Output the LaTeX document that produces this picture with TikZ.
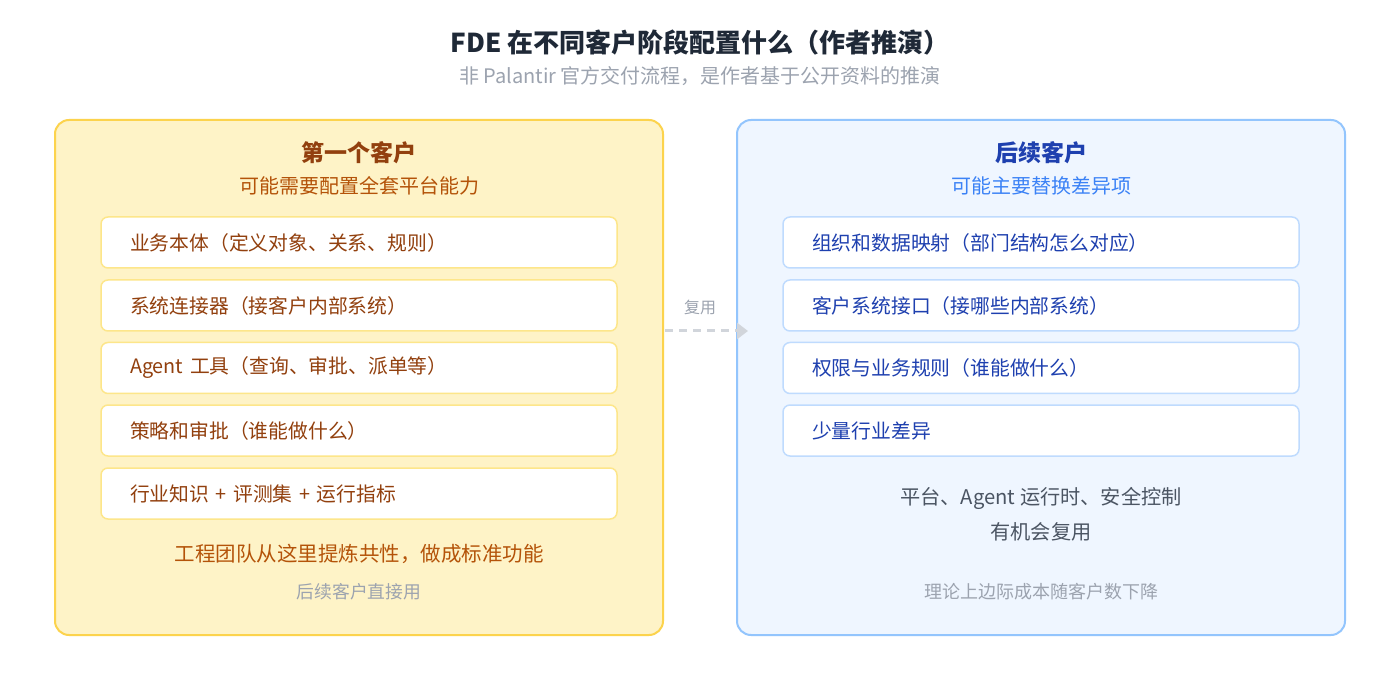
\documentclass[tikz,border=0pt]{standalone}
\usepackage{fontspec}
\setmainfont{Noto Sans CJK SC}
\usetikzlibrary{arrows.meta,positioning}
\definecolor{titlecol}{HTML}{1F2937}
\definecolor{mutedcol}{HTML}{9CA3AF}
\definecolor{amberbg}{HTML}{FEF3C7}
\definecolor{amberline}{HTML}{FCD34D}
\definecolor{amberitem}{HTML}{FDE68A}
\definecolor{amberdark}{HTML}{92400E}
\definecolor{ambermid}{HTML}{B45309}
\definecolor{bluebg}{HTML}{EFF6FF}
\definecolor{blueline}{HTML}{93C5FD}
\definecolor{blueitem}{HTML}{BFDBFE}
\definecolor{bluedark}{HTML}{1E40AF}
\definecolor{bluemid}{HTML}{3B82F6}
\definecolor{graytext}{HTML}{4B5563}
\definecolor{arrowcol}{HTML}{D1D5DB}
\newcommand{\fs}[1]{\fontsize{#1}{#1}\selectfont}
\begin{document}
\begin{tikzpicture}[x=1pt,y=-1pt,
    panel/.style={rounded corners=14pt,line width=2pt,minimum width=608pt,minimum height=515pt},
    itembox/.style={rounded corners=7pt,line width=1.5pt,fill=white,minimum width=516pt,minimum height=51pt,
        text width=458pt,inner xsep=29pt,align=left,font=\fs{19.8}},
    txt/.style={inner sep=0pt,anchor=center}]
    \fill[white](0,0)rectangle(1400,700);
    \useasboundingbox(0,0)rectangle(1400,700);
    % title
    \node[txt,font=\fs{26}\bfseries,text=titlecol](title)at(700,43){FDE 在不同客户阶段配置什么（作者推演）};
    \node[txt,font=\fs{20},text=mutedcol](subtitle)at(700,76){非 Palantir 官方交付流程，是作者基于公开资料的推演};
    % panels
    \node[panel,draw=amberline,fill=amberbg](first)at(359,377.5){};
    \node[panel,draw=blueline,fill=bluebg](later)at(1041,377.5){};
    % first customer
    \node[txt,font=\fs{23}\bfseries,text=amberdark](firsthead)at(359,153){第一个客户};
    \node[txt,font=\fs{20},text=ambermid](firstsub)at(359,186){可能需要配置全套平台能力};
    \node[itembox,draw=amberitem,text=amberdark](f1)at(359,242.5){业务本体（定义对象、关系、规则）};
    \node[itembox,draw=amberitem,text=amberdark](f2)at(359,305.5){系统连接器（接客户内部系统）};
    \node[itembox,draw=amberitem,text=amberdark](f3)at(359,368){Agent 工具（查询、审批、派单等）};
    \node[itembox,draw=amberitem,text=amberdark](f4)at(359,430.5){策略和审批（谁能做什么）};
    \node[itembox,draw=amberitem,text=amberdark](f5)at(359,493.5){行业知识 + 评测集 + 运行指标};
    \node[txt,font=\fs{20.5},text=ambermid](firstnote)at(359,554){工程团队从这里提炼共性，做成标准功能};
    \node[txt,font=\fs{17.8},text=mutedcol](firstfoot)at(359,592){后续客户直接用};
    % later customers
    \node[txt,font=\fs{23}\bfseries,text=bluedark](laterhead)at(1041,153){后续客户};
    \node[txt,font=\fs{20},text=bluemid](latersub)at(1041,186){可能主要替换差异项};
    \node[itembox,draw=blueitem,text=bluedark](l1)at(1041,242.5){组织和数据映射（部门结构怎么对应）};
    \node[itembox,draw=blueitem,text=bluedark](l2)at(1041,305.5){客户系统接口（接哪些内部系统）};
    \node[itembox,draw=blueitem,text=bluedark](l3)at(1041,368){权限与业务规则（谁能做什么）};
    \node[itembox,draw=blueitem,text=bluedark](l4)at(1041,430.5){少量行业差异};
    \node[txt,font=\fs{20.2},text=graytext](laternote)at(1041,498){平台、Agent 运行时、安全控制};
    \node[txt,font=\fs{20.2},text=graytext](laternote2)at(1041,532){有机会复用};
    \node[txt,font=\fs{18},text=mutedcol](laterfoot)at(1041,592){理论上边际成本随客户数下降};
    % reuse arrow
    \coordinate(reusefrom)at(665,331);
    \coordinate(reuseto)at(748,331);
    \draw[arrowcol,line width=3pt,dash pattern=on 8pt off 6pt,-{Triangle[length=11pt,width=16pt]}](reusefrom)--(reuseto);
    \node[txt,font=\fs{16},text=mutedcol](reuselbl)at(700,307){复用};
\end{tikzpicture}
\end{document}
